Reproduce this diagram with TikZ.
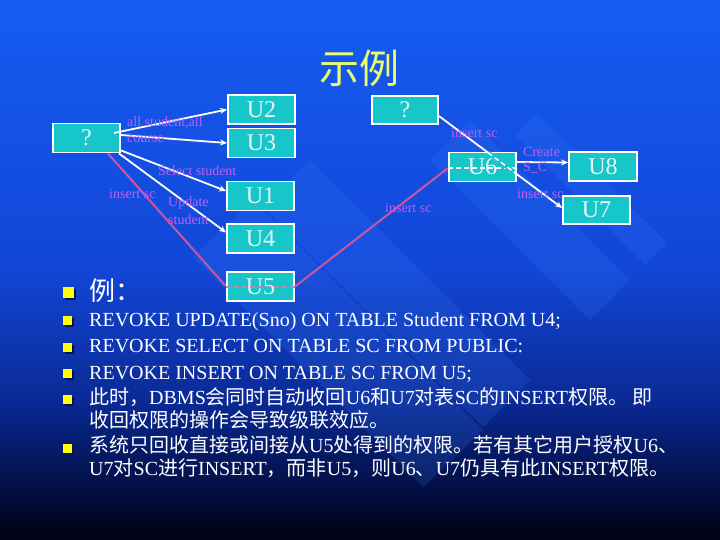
\documentclass[tikz,border=0pt]{standalone}
\usepackage{fontspec}
\setmainfont{Liberation Serif}
\newfontfamily\cjk{Noto Sans CJK SC}
\usetikzlibrary{arrows.meta,calc}
\newcommand\zh[1]{{\cjk #1}}
\definecolor{bgtop}{RGB}{22,92,242}
\definecolor{bgca}{RGB}{18,70,215}
\definecolor{bgcb}{RGB}{10,42,150}
\definecolor{bgcc}{RGB}{4,20,85}
\definecolor{bgbot}{RGB}{0,2,20}
\definecolor{bandcol}{RGB}{60,130,255}
\definecolor{boxfill}{RGB}{22,198,200}
\definecolor{boxtext}{RGB}{232,248,248}
\definecolor{labcol}{RGB}{190,95,245}
\definecolor{pinkline}{RGB}{204,85,160}
\definecolor{dashpink}{RGB}{175,140,180}
\definecolor{titlecol}{RGB}{235,255,110}
\definecolor{shadowcol}{RGB}{10,20,70}
\definecolor{bulletcol}{RGB}{255,255,0}
\pgfdeclareverticalshading{bgshade}{100bp}{color(0bp)=(bgbot); color(25bp)=(bgbot); color(31.5bp)=(bgcc); color(38bp)=(bgcb); color(50bp)=(bgca); color(75bp)=(bgtop); color(100bp)=(bgtop)}
\begin{document}
\begin{tikzpicture}[x=1pt,y=-1pt,
  box/.style={draw=white, line width=1.8pt, fill=boxfill, text=boxtext, minimum width=67pt, minimum height=29pt, inner sep=0pt, font=\fontsize{24}{24}\selectfont},
  lab/.style={text=labcol, font=\fontsize{14}{14}\selectfont, anchor=west, inner sep=0pt},
  wedge/.style={draw=white, line width=1.8pt, -{Stealth[length=7pt,width=6pt]}},
  pedge/.style={draw=pinkline, line width=2pt},
  ptip/.style={pedge, -{Stealth[length=4pt,width=4pt]}},
  txt/.style={text=white, anchor=base west, inner sep=0pt, font=\fontsize{20}{20}\selectfont},
  band/.style={fill=bandcol, opacity=0.17}]
\useasboundingbox (0,0) rectangle (720,540);
\shade[shading=bgshade] (0,0) rectangle (720,540);
% decorative bands
\fill[band] (667,243) -- (645,265) -- (515,135) -- (537,113) -- cycle;
\fill[band] (630,280) -- (590,320) -- (430,160) -- (470,120) -- cycle;
\fill[band] (530,380) -- (483,427) -- (263,207) -- (310,160) -- cycle;
\fill[band] (483,430) -- (423,487) -- (193,257) -- (253,200) -- cycle;

% title
\node[font=\cjk\fontsize{40}{40}\selectfont, text=titlecol] (title) at (359,68) {示例};

% boxes
\node[box] (Q1) at (86.5,138) {?};
\node[box] (U2) at (261.5,109.5) {U2};
\node[box] (U3) at (261.5,143) {U3};
\node[box] (U1) at (260.5,196) {U1};
\node[box] (U4) at (260.5,238.5) {U4};
\node[box] (U5) at (260.5,286.5) {U5};
\node[box, minimum width=66pt, minimum height=28pt] (Q2) at (405,110) {?};
\node[box] (U6) at (482.5,167) {U6};
\node[box, minimum width=68pt] (U8) at (603,166.5) {U8};
\node[box, minimum height=28pt] (U7) at (596.5,210) {U7};

% edges from left ?
\draw[wedge] ([xshift=-7pt,yshift=5pt]Q1.east) -- (U2.west);
\draw[wedge] ([yshift=3pt]Q1.east) -- (U3.west);
\draw[wedge] ([yshift=3pt]Q1.south east) -- ([yshift=5pt]U1.west);
\draw[wedge] ([xshift=-2pt]Q1.south east) -- ([yshift=6pt]U4.west);
\draw[ptip] ([xshift=-13pt]Q1.south east) -- (U5.west);
\draw[dashpink, line width=2pt, dash pattern=on 5pt off 3pt] (U5.west) -- (U5.east);
\draw[ptip] (U5.east) -- ([yshift=-1pt]U6.west);
\draw[white, line width=1.6pt, dash pattern=on 5pt off 3pt] ([yshift=-1pt]U6.west) -- ([yshift=-1pt]U6.east);

% edge from top ? through U6 to U7
\coordinate (s) at ([yshift=-6pt]Q2.east);
\coordinate (e) at ([yshift=2pt]U7.west);
\draw[wedge] (s) -- (e);
\fill[boxfill] ($(s)!0.40!(e)+(-1,2)$) -- ($(s)!0.61!(e)+(-1,2)$) -- ($(s)!0.61!(e)+(1,-2)$) -- ($(s)!0.40!(e)+(1,-2)$) -- cycle;
\draw[white, line width=1.6pt, dash pattern=on 5pt off 3pt] ($(s)!0.40!(e)$) -- ($(s)!0.61!(e)$);
\draw[wedge] ([yshift=5pt]U6.east) -- ([yshift=4pt]U8.west);

% labels
\node[lab] at (127,123) {all student,all};
\node[lab] at (127,139) {course};
\node[lab] at (158,171) {Select student};
\node[lab] at (109,194) {insert sc};
\node[lab] at (168,203) {Update};
\node[lab] at (168,220) {student};
\node[lab] at (451,133) {insert sc};
\node[lab] at (385,208) {insert sc};
\node[lab] at (523,152) {Create};
\node[lab] at (523,168) {S\_C};
\node[lab] at (517,194) {insert sc};

% bullets
\foreach \yy/\ss in {287/11, 316/9, 343/9, 369/9, 395/9, 444/9}{
  \fill[shadowcol] (64.5,\yy+1.5) rectangle +(\ss,\ss);
  \fill[bulletcol] (63,\yy) rectangle +(\ss,\ss);
}

% text
\node[txt, font=\cjk\fontsize{26}{26}\selectfont] at (89,300) {例：};
\node[txt] at (89,326) {REVOKE UPDATE(Sno) ON TABLE Student FROM U4;};
\node[txt] at (89,352) {REVOKE SELECT ON TABLE SC FROM PUBLIC:};
\node[txt] at (89,379) {REVOKE INSERT ON TABLE SC FROM U5;};
\node[txt] at (89,404) {\zh{此时，}DBMS\zh{会同时自动收回}U6\zh{和}U7\zh{对表}SC\zh{的}INSERT\zh{权限。 即}};
\node[txt] at (89,427) {\zh{收回权限的操作会导致级联效应。}};
\node[txt] at (89,452) {\zh{系统只回收直接或间接从}U5\zh{处得到的权限。若有其它用户授权}U6\zh{、}};
\node[txt] at (89,475) {U7\zh{对}SC\zh{进行}INSERT\zh{，而非}U5\zh{，则}U6\zh{、}U7\zh{仍具有此}INSERT\zh{权限。}};
\end{tikzpicture}
\end{document}
